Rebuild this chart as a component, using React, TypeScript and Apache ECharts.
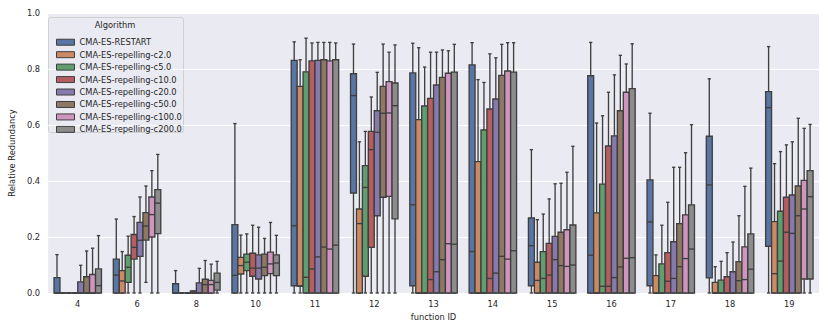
import React, { useEffect, useRef } from "react";
import * as echarts from "echarts";

const categories = ["4", "6", "8", "10", "11", "12", "13", "14", "15", "16", "17", "18", "19"];
const algorithms = [
  "CMA-ES-RESTART",
  "CMA-ES-repelling-c2.0",
  "CMA-ES-repelling-c5.0",
  "CMA-ES-repelling-c10.0",
  "CMA-ES-repelling-c20.0",
  "CMA-ES-repelling-c50.0",
  "CMA-ES-repelling-c100.0",
  "CMA-ES-repelling-c200.0",
];
const colors = ["#5975a4", "#cc8963", "#5f9e6e", "#b55d60", "#857aab", "#8d7866", "#d095bf", "#8c8c8c"];
const yTicks = [0, 0.2, 0.4, 0.6, 0.8, 1.0];

// each entry: [lowWhisker, q1, median, q3, highWhisker]
const restart = [
  [0, 0, 0, 0.055, 0.137],
  [0, 0, 0.064, 0.121, 0.264],
  [0, 0, 0, 0.033, 0.08],
  [0, 0, 0.063, 0.244, 0.605],
  [0, 0.026, 0.24, 0.831, 0.897],
  [0, 0.357, 0.705, 0.783, 0.889],
  [0, 0.026, 0.315, 0.786, 0.892],
  [0, 0, 0.148, 0.815, 0.894],
  [0, 0.026, 0.169, 0.268, 0.512],
  [0, 0, 0.135, 0.776, 0.895],
  [0, 0.026, 0.254, 0.404, 0.642],
  [0, 0.054, 0.386, 0.56, 0.765],
  [0, 0.167, 0.662, 0.719, 0.88],
];
const c2 = [
  [0, 0, 0, 0, 0],
  [0, 0, 0.043, 0.08, 0.148],
  [0, 0, 0, 0, 0],
  [0, 0.068, 0.098, 0.127, 0.207],
  [0, 0.025, 0.025, 0.738, 0.833],
  [0, 0, 0.248, 0.3, 0.54],
  [0, 0, 0, 0.619, 0.876],
  [0, 0, 0, 0.469, 0.762],
  [0, 0, 0.045, 0.11, 0.262],
  [0, 0, 0, 0.286, 0.607],
  [0, 0, 0, 0.062, 0.136],
  [0, 0, 0, 0.038, 0.094],
  [0, 0, 0.069, 0.255, 0.462],
];
const c5 = [
  [0, 0, 0, 0, 0],
  [0, 0.038, 0.092, 0.135, 0.203],
  [0, 0, 0, 0, 0],
  [0, 0.08, 0.11, 0.139, 0.211],
  [0, 0, 0.056, 0.79, 0.91],
  [0, 0.06, 0.377, 0.455, 0.577],
  [0, 0, 0, 0.668, 0.807],
  [0, 0, 0, 0.582, 0.752],
  [0, 0, 0.052, 0.148, 0.282],
  [0, 0, 0.024, 0.389, 0.633],
  [0, 0, 0, 0.104, 0.242],
  [0, 0, 0, 0.046, 0.113],
  [0, 0, 0.114, 0.292, 0.505],
];
const c10 = [
  [0, 0, 0, 0, 0],
  [0, 0.121, 0.163, 0.209, 0.273],
  [0, 0, 0, 0.007, 0.007],
  [0, 0.06, 0.089, 0.142, 0.242],
  [0, 0, 0.086, 0.829, 0.893],
  [0, 0.163, 0.512, 0.577, 0.7],
  [0, 0, 0.048, 0.695, 0.86],
  [0, 0, 0.052, 0.657, 0.854],
  [0, 0, 0.064, 0.177, 0.336],
  [0, 0, 0.024, 0.525, 0.717],
  [0, 0, 0.042, 0.144, 0.324],
  [0, 0, 0, 0.058, 0.144],
  [0, 0, 0.217, 0.342, 0.529],
];
const c20 = [
  [0, 0, 0, 0.04, 0.099],
  [0, 0.131, 0.188, 0.252, 0.343],
  [0, 0, 0, 0.036, 0.088],
  [0, 0.05, 0.089, 0.136, 0.235],
  [0, 0, 0.129, 0.831, 0.895],
  [0, 0.276, 0.574, 0.651, 0.788],
  [0, 0, 0.076, 0.743, 0.86],
  [0, 0, 0.071, 0.693, 0.84],
  [0, 0, 0.119, 0.202, 0.39],
  [0, 0, 0.055, 0.561, 0.779],
  [0, 0, 0.052, 0.183, 0.449],
  [0, 0, 0, 0.076, 0.182],
  [0, 0, 0.213, 0.35, 0.54],
];
const c50 = [
  [0, 0, 0, 0.058, 0.15],
  [0.038, 0.189, 0.239, 0.287, 0.382],
  [0, 0, 0.03, 0.049, 0.116],
  [0, 0.062, 0.092, 0.139, 0.195],
  [0, 0, 0.164, 0.833, 0.895],
  [0, 0.342, 0.642, 0.738, 0.889],
  [0, 0, 0.119, 0.77, 0.868],
  [0, 0, 0.131, 0.777, 0.888],
  [0, 0, 0.098, 0.217, 0.392],
  [0, 0, 0.093, 0.651, 0.849],
  [0, 0, 0.094, 0.248, 0.449],
  [0, 0, 0.044, 0.112, 0.276],
  [0, 0, 0.276, 0.382, 0.624],
];
const c100 = [
  [0, 0, 0, 0.066, 0.16],
  [0, 0.2, 0.28, 0.343, 0.437],
  [0, 0, 0.03, 0.045, 0.103],
  [0, 0.069, 0.104, 0.146, 0.252],
  [0, 0, 0.157, 0.829, 0.895],
  [0, 0.345, 0.643, 0.755, 0.86],
  [0, 0, 0.176, 0.785, 0.865],
  [0, 0, 0.121, 0.793, 0.894],
  [0, 0, 0.095, 0.226, 0.431],
  [0, 0, 0.124, 0.717, 0.818],
  [0, 0, 0.123, 0.279, 0.501],
  [0, 0, 0.048, 0.165, 0.381],
  [0, 0.05, 0.3, 0.402, 0.588],
];
const c200 = [
  [0, 0, 0.026, 0.086, 0.205],
  [0, 0.212, 0.321, 0.369, 0.495],
  [0, 0.01, 0.038, 0.071, 0.113],
  [0, 0.062, 0.107, 0.136, 0.206],
  [0, 0, 0.171, 0.833, 0.893],
  [0, 0.265, 0.669, 0.75, 0.886],
  [0, 0, 0.174, 0.789, 0.888],
  [0, 0, 0.151, 0.789, 0.894],
  [0, 0, 0.1, 0.243, 0.524],
  [0, 0, 0.126, 0.73, 0.89],
  [0, 0, 0.157, 0.315, 0.601],
  [0, 0, 0.085, 0.211, 0.446],
  [0, 0.05, 0.344, 0.437, 0.602],
];

const allSeries = [restart, c2, c5, c10, c20, c50, c100, c200];

const FONT = "DejaVu Sans";
const TEXT = "#262626";
const EDGE = "#3f3f3f";

export default function App() {
  const ref = useRef<HTMLDivElement>(null);
  useEffect(() => {
    if (!ref.current) return;
    const chart = echarts.init(ref.current, undefined, { renderer: "svg" });
    const n = algorithms.length;
    const series = allSeries.map((rows, si) => ({
      type: "custom",
      name: algorithms[si],
      itemStyle: { color: colors[si], borderColor: EDGE, borderWidth: 1 },
      data: rows.map((r, ci) => [ci, ...r]),
      encode: { x: 0, y: [1, 2, 3, 4, 5] },
      renderItem: (params: any, api: any) => {
        const ci = api.value(0);
        const band = api.size([1, 0])[0];
        const bw = (band * 0.8) / n;
        const cx = api.coord([ci, 0])[0] + (si - (n - 1) / 2) * bw;
        const yLow = api.coord([ci, api.value(1)])[1];
        const yQ1 = api.coord([ci, api.value(2)])[1];
        const yMed = api.coord([ci, api.value(3)])[1];
        const yQ3 = api.coord([ci, api.value(4)])[1];
        const yHigh = api.coord([ci, api.value(5)])[1];
        const cap = bw * 0.28;
        const ls = { stroke: EDGE, lineWidth: 1.35 };
        return {
          type: "group",
          children: [
            { type: "line", shape: { x1: cx, y1: yQ1, x2: cx, y2: yLow }, style: ls },
            { type: "line", shape: { x1: cx, y1: yQ3, x2: cx, y2: yHigh }, style: ls },
            { type: "line", shape: { x1: cx - cap, y1: yLow, x2: cx + cap, y2: yLow }, style: ls },
            { type: "line", shape: { x1: cx - cap, y1: yHigh, x2: cx + cap, y2: yHigh }, style: ls },
            {
              type: "rect",
              shape: { x: cx - bw / 2, y: yQ3, width: bw, height: Math.max(yQ1 - yQ3, 0) },
              style: { fill: colors[si], stroke: EDGE, lineWidth: 1.35 },
            },
            { type: "line", shape: { x1: cx - bw / 2, y1: yMed, x2: cx + bw / 2, y2: yMed }, style: ls },
          ],
        };
      },
    }));

    chart.setOption({
      animation: false,
      textStyle: { fontFamily: FONT },
      grid: {
        left: 44,
        right: 11,
        top: 13,
        bottom: 39,
        show: true,
        backgroundColor: "#EAEAF2",
        borderWidth: 0,
      },
      legend: {
        orient: "vertical",
        left: 51,
        top: 31,
        itemWidth: 18,
        itemHeight: 6,
        itemGap: 0,
        icon: "rect",
        textStyle: { fontFamily: FONT, fontSize: 8.3, color: TEXT, lineHeight: 12.45 },
        data: algorithms.map((a, i) => ({
          name: a,
          itemStyle: { color: colors[i], borderColor: EDGE, borderWidth: 1 },
        })),
      },
      graphic: [
        {
          type: "rect",
          left: 48,
          top: 17,
          z: 0,
          shape: { width: 135, height: 115, r: 2 },
          style: { fill: "rgba(234,234,242,0.85)", stroke: "#d0d0d0", lineWidth: 1 },
        },
        {
          type: "text",
          x: 115,
          y: 25,
          z: 1,
          style: {
            text: "Algorithm",
            fontFamily: FONT,
            fontSize: 8.3,
            fill: TEXT,
            textAlign: "center",
            textVerticalAlign: "middle",
          },
        },
      ],
      xAxis: {
        type: "category",
        data: categories,
        name: "function ID",
        nameLocation: "middle",
        nameGap: 20,
        nameTextStyle: { fontFamily: FONT, fontSize: 8.3, color: TEXT },
        axisLine: { show: false },
        axisTick: { show: false },
        axisLabel: { fontFamily: FONT, fontSize: 8.3, color: TEXT, margin: 7 },
        splitLine: { show: false },
      },
      yAxis: {
        type: "value",
        min: 0,
        max: 1,
        interval: 0.2,
        name: "Relative Redundancy",
        nameLocation: "middle",
        nameGap: 21,
        nameTextStyle: { fontFamily: FONT, fontSize: 8.3, color: TEXT },
        axisLine: { show: false },
        axisTick: { show: false },
        axisLabel: {
          fontFamily: FONT,
          fontSize: 8.3,
          color: TEXT,
          margin: 8,
          formatter: (v: number) => (yTicks.some((t) => Math.abs(t - v) < 1e-9) ? v.toFixed(1) : ""),
        },
        splitLine: { show: true, lineStyle: { color: "#ffffff", width: 1 } },
      },
      series,
    });
    return () => chart.dispose();
  }, []);
  return (
    <div
      ref={ref}
      style={{ position: "fixed", left: 0, top: 0, width: 830, height: 332, background: "#ffffff" }}
    />
  );
}
